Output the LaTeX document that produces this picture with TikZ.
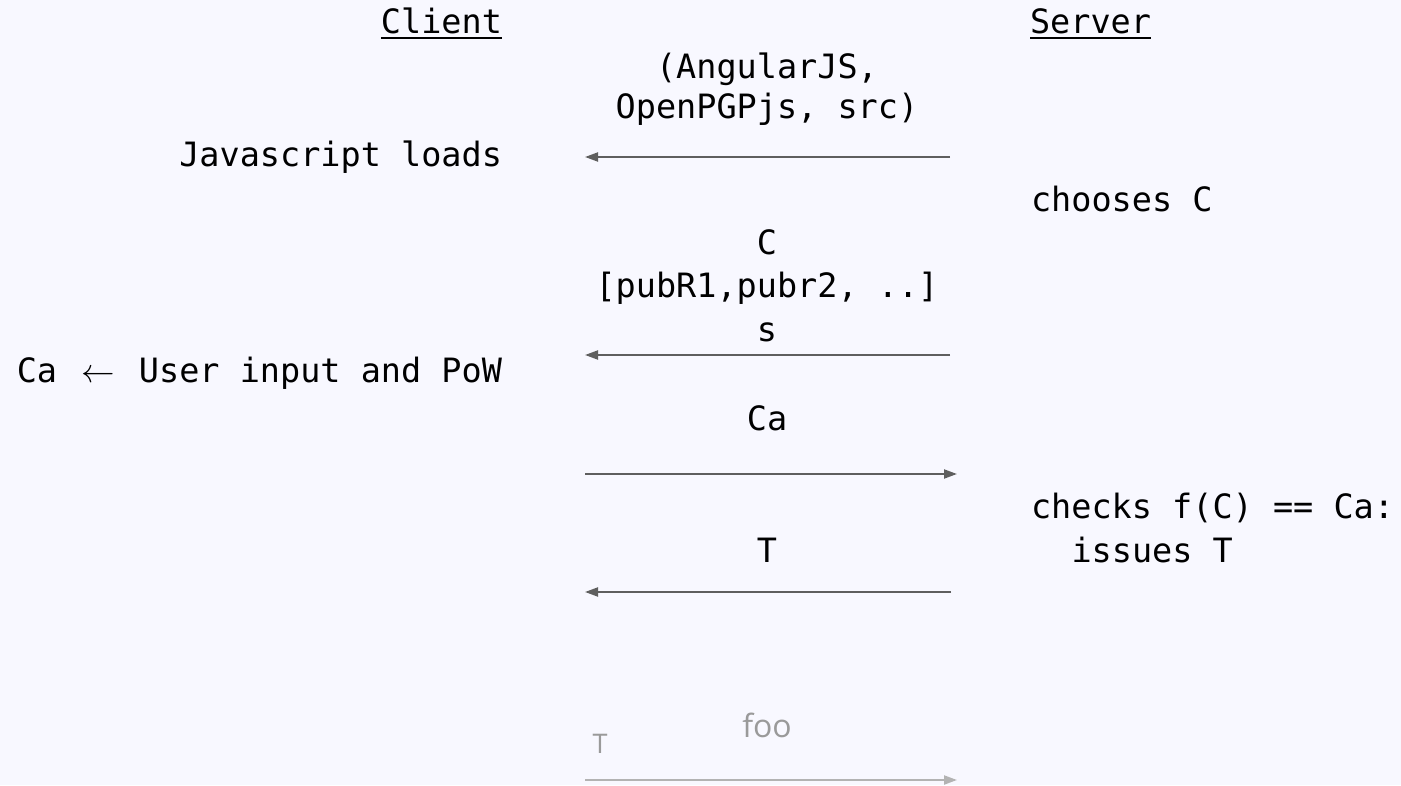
\RequirePackage{fix-cm}
\documentclass[tikz,border=0pt]{standalone}
\usepackage{fontspec}
\setmainfont{DejaVu Sans Mono}
\newfontfamily\labelsans{Open Sans}
\usetikzlibrary{arrows.meta}
\definecolor{pagebg}{HTML}{F8F8FF}
\definecolor{msgline}{HTML}{5F5F5F}
\definecolor{faint}{HTML}{9A9A9A}
\definecolor{faintline}{HTML}{B3B3B3}
\begin{document}
\begin{tikzpicture}[x=1pt,y=-1pt,
  txt/.style={inner sep=0pt, outer sep=0pt, font=\fontsize{33.5}{40}\selectfont, text=black},
  ghosttxt/.style={inner sep=0pt, outer sep=0pt, text=faint},
  msg/.style={draw=msgline, line width=2pt, -{Triangle[length=13pt,width=9pt]}},
  ghostmsg/.style={draw=faintline, line width=2pt, -{Triangle[length=13pt,width=9pt]}},
  rule/.style={line width=2.5pt}
]
% canvas
\useasboundingbox (0,0) rectangle (1401,785);
\fill[pagebg] (0,0) rectangle (1401,785);

% lane headings
\node[txt, anchor=base east] (client) at (502,33) {Client};
\node[txt, anchor=base west] (server) at (1030,33) {Server};
\draw[rule] ([yshift=-5pt]client.base west) -- ([yshift=-5pt]client.base east);
\draw[rule] ([yshift=-5pt]server.base west) -- ([yshift=-5pt]server.base east);

% 1: code delivery
\node[txt, anchor=base] (src1) at (767,78) {(AngularJS,};
\node[txt, anchor=base] (src2) at (767,118) {OpenPGPjs, src)};
\node[txt, anchor=base east] (jsload) at (502,166) {Javascript loads};
\coordinate (s1) at (950,157);
\coordinate (c1) at (585,157);
\draw[msg] (s1) -- (c1);

% 2: challenge
\node[txt, anchor=base west] (choose) at (1031,211) {chooses C};
\node[txt, anchor=base] (chal1) at (767,254) {C};
\node[txt, anchor=base] (chal2) at (767,297) {[pubR1,pubr2, ..]};
\node[txt, anchor=base] (chal3) at (767,341) {s};
\coordinate (s2) at (950,355);
\coordinate (c2) at (585,355);
\draw[msg] (s2) -- (c2);
\node[txt, anchor=base east] (pow) at (502,382)
  {Ca\ \kern4pt$\leftarrow$\kern4pt\ User input and PoW};

% 3: answer
\node[txt, anchor=base] (ans) at (767,430) {Ca};
\coordinate (c3) at (585,474);
\coordinate (s3) at (957,474);
\draw[msg] (c3) -- (s3);

% 4: token
\node[txt, anchor=base west] (check1) at (1031,518) {checks f(C) == Ca:};
\node[txt, anchor=base west] (check2) at (1071.5,562) {issues T};
\node[txt, anchor=base] (tok) at (767,562) {T};
\coordinate (s4) at (951,592);
\coordinate (c4) at (585,592);
\draw[msg] (s4) -- (c4);

% 5: later request
\node[ghosttxt, anchor=base, font=\labelsans\fontsize{32}{38}\selectfont] (foo) at (767,737) {foo};
\node[ghosttxt, anchor=base, font=\labelsans\fontsize{27}{32}\selectfont] (tsmall) at (600,753) {T};
\coordinate (c5) at (585,780);
\coordinate (s5) at (957,780);
\draw[ghostmsg] (c5) -- (s5);
\end{tikzpicture}
\end{document}
